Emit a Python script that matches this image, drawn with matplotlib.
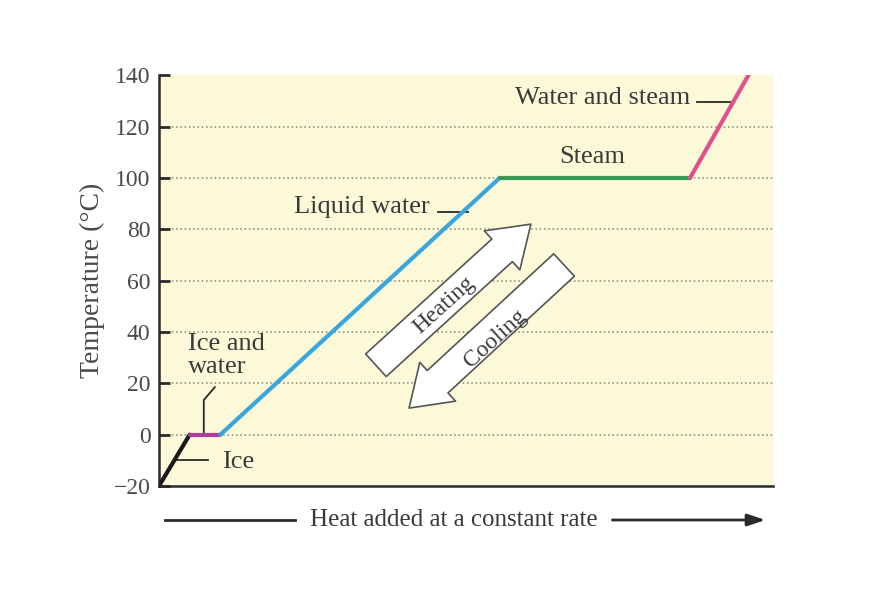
import matplotlib.pyplot as plt
from matplotlib.lines import Line2D
from matplotlib.patches import FancyArrowPatch

plt.rcParams["font.family"] = ["Liberation Serif", "DejaVu Serif"]

# heating curve (heat added in arbitrary units, temperature in deg C)
heat = [0, 5, 10, 55.5, 86.5, 96]
temp = [-20, 0, 0, 100, 100, 140]
segment_colors = ["#1a1a1a", "#b03c9c", "#3aa6dc", "#3a9a55", "#e0508c"]

y_ticks = [-20, 0, 20, 40, 60, 80, 100, 120, 140]
grid_levels = [0, 20, 40, 60, 80, 100, 120]

text_color = "#3a3a3a"

fig = plt.figure(figsize=(8.71, 6.06), dpi=100)
ax = fig.add_axes([0.1825, 0.198, 0.705, 0.678])
ax.set_facecolor("#fcf9d8")

for level in grid_levels:
    ax.axhline(level, color="#85857a", linestyle=(0, (1, 1.8)), linewidth=1.1, zorder=1)

for i, c in enumerate(segment_colors):
    ax.plot(heat[i:i + 2], temp[i:i + 2], color=c, linewidth=3, solid_capstyle="round", zorder=3)

ax.set_xlim(0, 100)
ax.set_ylim(-20, 140)
ax.set_xticks([])
ax.set_yticks(y_ticks)
ax.tick_params(axis="y", direction="in", length=8, width=2, color="#2a2a2a",
               labelsize=17, labelcolor="#4a4a4a", pad=6)
for side in ["top", "right"]:
    ax.spines[side].set_visible(False)
for side in ["left", "bottom"]:
    ax.spines[side].set_color("#2a2a2a")
    ax.spines[side].set_linewidth(1.8)

ax.set_ylabel("Temperature (°C)", fontsize=20, color="#4a4a4a", labelpad=6)

# phase labels with leader lines
lead = dict(color="#2a2a2a", linewidth=1.3)
ax.text(44.1, 88.8, "Liquid water", ha="right", va="center", fontsize=19, color=text_color)
ax.plot([45.5, 50.3], [86.7, 86.7], **lead)

ax.text(70.5, 108.0, "Steam", ha="center", va="center", fontsize=19, color=text_color)

ax.text(86.5, 131.2, "Water and steam", ha="right", va="center", fontsize=19, color=text_color)
ax.plot([87.6, 93.5], [129.5, 129.5], **lead)

ax.text(4.7, 30.8, "Ice and\nwater", ha="left", va="center", fontsize=19, color=text_color,
        linespacing=1.05)
ax.plot([9.1, 7.3, 7.3], [18.5, 13.5, 0.6], **lead)

ax.text(10.3, -10.8, "Ice", ha="left", va="center", fontsize=19, color=text_color)
ax.plot([2.9, 8.0], [-9.9, -9.9], **lead)

# heating / cooling block arrows
block = dict(arrowstyle="simple,head_length=0.7,head_width=0.95,tail_width=0.55",
             mutation_scale=40, fc="white", ec="#555555", lw=1.2)
ax.annotate("", xy=(60.9, 82.7), xytext=(35.0, 26.3), arrowprops=block, zorder=4)
ax.annotate("", xy=(40.4, 9.6), xytext=(66.3, 66.8), arrowprops=block, zorder=4)
ax.text(46.5, 50.5, "Heating", rotation=42, ha="center", va="center", fontsize=17,
        color=text_color, rotation_mode="anchor", zorder=5)
ax.text(54.7, 37.5, "Cooling", rotation=42, ha="center", va="center", fontsize=17,
        color=text_color, rotation_mode="anchor", zorder=5)

# x-axis caption with arrow
y_cap = 1 - 520 / 606
fig.text(0.521, y_cap, "Heat added at a constant rate", ha="center", va="center",
         fontsize=18, color=text_color)
fig.add_artist(Line2D([0.189, 0.339], [y_cap, y_cap], color="#2a2a2a", linewidth=2,
                      transform=fig.transFigure))
fig.add_artist(FancyArrowPatch(
    (0.700, y_cap), (0.882, y_cap), transform=fig.transFigure,
    arrowstyle="-|>,head_length=0.6,head_width=0.2", mutation_scale=18,
    color="#2a2a2a", linewidth=2))

fig.savefig("out.png", dpi=100)
